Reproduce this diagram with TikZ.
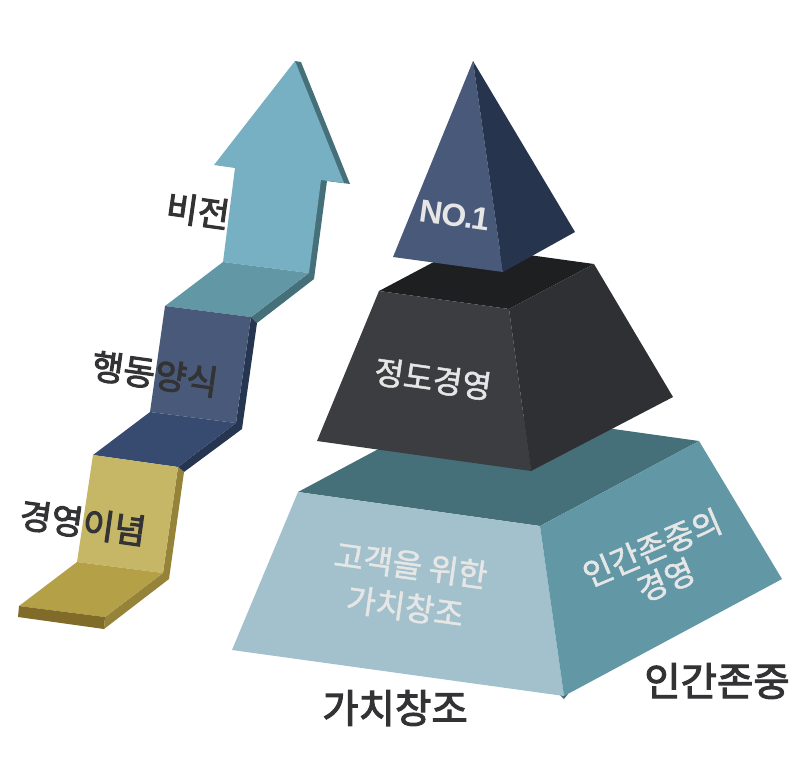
\documentclass[tikz,border=0pt]{standalone}
\usepackage{fontspec}
\setmainfont{Noto Sans CJK KR}
\newfontfamily\medfont[FakeBold=1.5]{Noto Sans CJK KR}
\newfontfamily\heavyfont[FakeBold=2.8]{Noto Sans CJK KR}
\newfontfamily\numfont[LetterSpace=-5]{Liberation Sans}
\definecolor{arrowface}{HTML}{76B0C2}
\definecolor{arrowside}{HTML}{467079}
\definecolor{tealstep}{HTML}{6297A6}
\definecolor{blueface}{HTML}{495979}
\definecolor{blueside}{HTML}{263550}
\definecolor{bluestep}{HTML}{374A70}
\definecolor{apexside}{HTML}{27344E}
\definecolor{goldface}{HTML}{C5B765}
\definecolor{goldside}{HTML}{958339}
\definecolor{goldstep}{HTML}{B4A047}
\definecolor{goldfront}{HTML}{806B29}
\definecolor{darkface}{HTML}{3C3D41}
\definecolor{darkside}{HTML}{2F3034}
\definecolor{darktop}{HTML}{1E1F21}
\definecolor{paleface}{HTML}{A2C1CD}
\definecolor{inktext}{HTML}{333335}
\definecolor{lighttext}{HTML}{E6E6E6}
\tikzset{
  steplabel/.style={text=inktext, font=\heavyfont\fontsize{34.5}{34.5}\selectfont, rotate=-8, inner sep=0pt},
  facelabel/.style={text=lighttext, font=\medfont\fontsize{32}{42}\selectfont, align=center, inner sep=0pt},
  baselabel/.style={text=inktext, font=\heavyfont\fontsize{39.5}{39.5}\selectfont, inner sep=0pt}
}
\begin{document}
\begin{tikzpicture}[x=1pt,y=-1pt]
  \useasboundingbox (0,0) rectangle (802,780);

  % Draw the arrow
  \fill[arrowside] (295,61) -- (301,62) -- (350,184) -- (327,181) -- (314,279) -- (257,323) -- (251,317) -- (309,273) -- cycle;
  \fill[arrowface] (295,61) -- (344,183) -- (321,180) -- (309,273) -- (223,262) -- (235,168) -- (214,165) -- cycle;
  \fill[tealstep] (223,262) -- (309,273) -- (251,317) -- (165,306) -- cycle;
  \fill[blueside] (251,317) -- (257,323) -- (242,429) -- (184,472) -- (178,467) -- (236,423) -- cycle;
  \fill[blueface] (165,306) -- (251,317) -- (236,423) -- (150,412) -- cycle;
  \fill[bluestep] (150,412) -- (236,423) -- (178,467) -- (93,455) -- cycle;
  \fill[goldside] (178,467) -- (184,472) -- (169,579) -- (104,629) -- (105,617) -- (163,573) -- cycle;
  \fill[goldface] (93,455) -- (178,467) -- (163,573) -- (77,562) -- cycle;
  \fill[goldstep] (77,562) -- (163,573) -- (105,617) -- (19,606) -- cycle;
  \fill[goldfront] (19,606) -- (105,617) -- (104,629) -- (18,617) -- cycle;

  % Draw the pyramid
  \fill[arrowside] (298,492) -- (457,407) -- (699,441) -- (540,526) -- cycle;
  \fill[arrowside] (560,695) -- (568,694) -- (564,699) -- cycle;
  \fill[paleface] (298,492) -- (540,526) -- (564,696) -- (232,650) -- cycle;
  \fill[tealstep] (540,526) -- (699,441) -- (782,579) -- (564,696) -- cycle;
  \fill[darktop] (379,291) -- (464,246) -- (594,264) -- (509,309) -- cycle;
  \fill[darkface] (379,291) -- (509,309) -- (531,471) -- (317,441) -- cycle;
  \fill[darkside] (509,309) -- (594,264) -- (673,397) -- (531,471) -- cycle;
  \fill[blueface] (473,61) -- (503,272) -- (393,257) -- cycle;
  \fill[apexside] (473,61) -- (575,232) -- (503,272) -- cycle;

  % Label the steps
  \node[steplabel] (vision) at (198,211) {비전};
  \node[steplabel] (conduct) at (155,374) {행동양식};
  \node[steplabel] (belief) at (83,523) {경영이념};

  % Label the pyramid
  \node[facelabel, rotate=-8, font=\numfont\fontsize{32}{32}\selectfont\bfseries] (first) at (455,215) {NO.1};
  \node[facelabel, rotate=-8] (ethics) at (433,379) {정도경영};
  \node[facelabel, rotate=-8] (customer) at (408,586) {고객을 위한\\가치창조};
  \node[facelabel, rotate=23, font=\medfont\fontsize{32}{35}\selectfont] (respect) at (659,564) {인간존중의\\경영};
  \node[baselabel] (value) at (395,708) {가치창조};
  \node[baselabel] (human) at (717,681) {인간존중};
\end{tikzpicture}
\end{document}
